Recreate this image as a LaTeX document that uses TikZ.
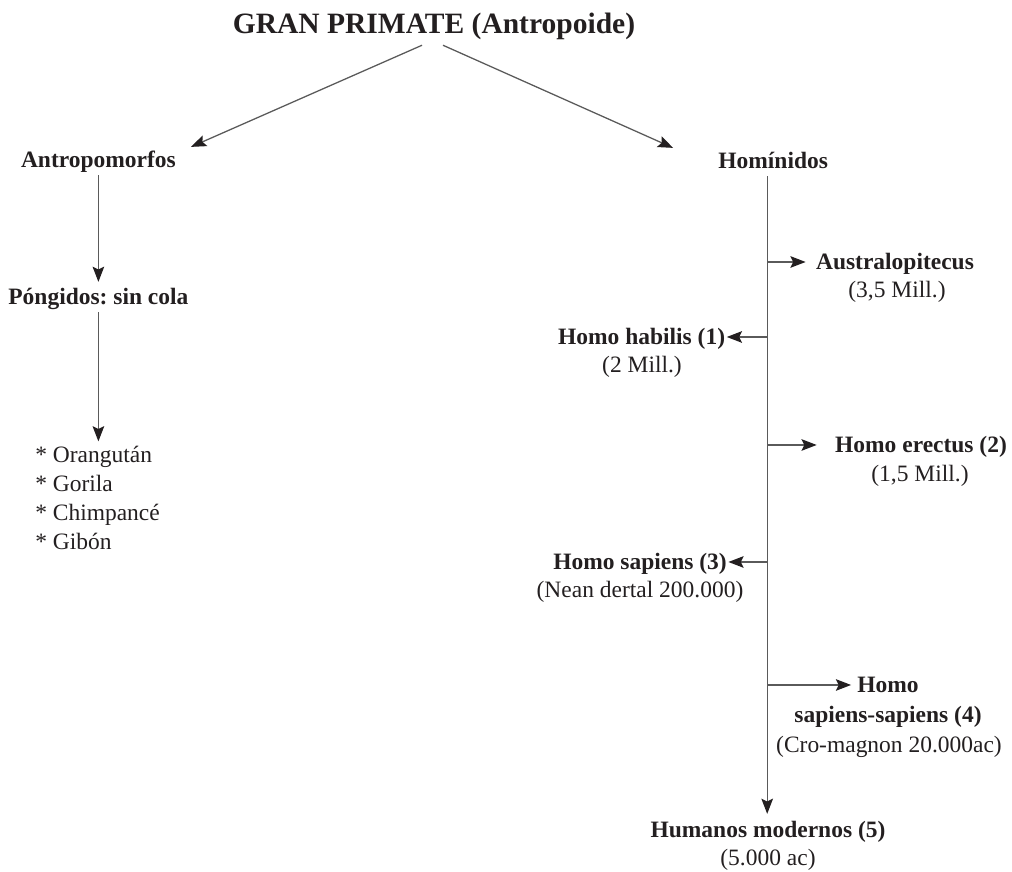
\documentclass[tikz,border=0pt]{standalone}
\usepackage{fontspec}
\setmainfont{Liberation Serif}
\frenchspacing
\usetikzlibrary{arrows.meta}
\definecolor{inkblack}{HTML}{231F20}
\definecolor{linegray}{HTML}{5A5A5A}

\begin{document}
\begin{tikzpicture}[
  >={Stealth[length=3.8mm,width=2.9mm,inset=0.7mm,color=inkblack]},
  link/.style={->, draw=linegray, line width=0.32mm},
  heading/.style={
    font=\fontsize{21}{25}\selectfont\bfseries, text=inkblack
  },
  taxon/.style={
    font=\fontsize{16.7}{20.6}\selectfont\bfseries, text=inkblack,
    inner xsep=1pt, inner ysep=0.1cm,
    text height=13.4pt, text depth=2pt
  },
  epoch/.style={
    font=\fontsize{16.7}{20.6}\selectfont, text=inkblack,
    inner xsep=1pt, inner ysep=0.1cm,
    text height=13.4pt, text depth=2pt
  },
  species/.style={
    font=\fontsize{16.7}{20.7}\selectfont, text=inkblack,
    align=left, inner xsep=1pt
  }
]
\useasboundingbox (0,0) rectangle (25.3,-21.8);

% Top of the tree.
\node[heading, anchor=base] (title) at (10.85,-0.85)
  {GRAN PRIMATE (Antropoide)};
\node[taxon, anchor=base] (antro) at (2.46,-4.2) {Antropomorfos};
\node[taxon, anchor=base] (hominidos) at (19.33,-4.225) {Homínidos};

\draw[link] ([xshift=-0.3cm]title.south)
  -- ([xshift=0.34cm,yshift=-0.05cm]antro.north east);
\draw[link] ([xshift=0.225cm]title.south)
  -- ([xshift=-1.09cm,yshift=-0.05cm]hominidos.north west);

% Left branch: great apes.
\node[taxon, anchor=base] (pongidos) at (2.46,-7.625) {Póngidos: sin cola};
% base of a multi-line node = last line
\node[species, anchor=base west] (apes) at (0.84,-13.75)
  {* Orangután\\* Gorila\\* Chimpancé\\* Gibón};

\draw[link] (antro.south) -- (antro.south |- pongidos.north);
\draw[link] (pongidos.south) -- (pongidos.south |- apes.north);

% Right branch: hominid line.
\node[taxon, anchor=base] (austr) at (22.375,-6.75) {Australopitecus};
\node[epoch, anchor=base] (austrDate) at (22.425,-7.45) {(3,5 Mill.)};

\node[taxon, anchor=base] (habilis) at (16.04,-8.625) {Homo habilis (1)};
\node[epoch, anchor=base] (habilisDate) at (16.05,-9.325) {(2 Mill.)};

\node[taxon, anchor=base] (erectus) at (23.025,-11.325) {Homo erectus (2)};
\node[epoch, anchor=base] (erectusDate) at (23.0,-12.05) {(1,5 Mill.)};

\node[taxon, anchor=base] (sapiens) at (16.0,-14.25) {Homo sapiens (3)};
\node[epoch, anchor=base] (sapiensDate) at (16.0,-14.95)
  {(Nean dertal 200.000)};

\node[taxon, anchor=base] (ssHomo) at (22.2,-17.325) {Homo};
\node[taxon, anchor=base] (ssName) at (22.2,-18.075) {sapiens-sapiens (4)};
\node[epoch, anchor=base] (ssDate) at (22.225,-18.8)
  {(Cro-magnon 20.000ac)};

\node[taxon, anchor=base] (humanos) at (19.2,-20.925) {Humanos modernos (5)};
\node[epoch, anchor=base] (humanosDate) at (19.2,-21.625) {(5.000 ac)};

\coordinate (trunkTop) at ([xshift=-0.15cm]hominidos.south);
\draw[link] (trunkTop) -- (trunkTop |- humanos.north);

\draw[link] (trunkTop |- austr.west) -- ([xshift=-0.22cm]austr.west);
\draw[link] (trunkTop |- habilis.east) -- (habilis.east);
\draw[link] (trunkTop |- erectus.west) -- ([xshift=-0.42cm]erectus.west);
\draw[link] (trunkTop |- sapiens.east) -- (sapiens.east);
\draw[link] (trunkTop |- ssHomo.west) -- ([xshift=-0.115cm]ssHomo.west);

\end{tikzpicture}
\end{document}
